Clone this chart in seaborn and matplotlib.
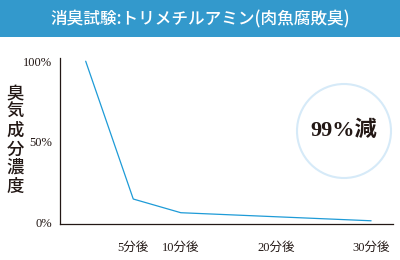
import matplotlib
matplotlib.use("Agg")
import matplotlib.pyplot as plt
import seaborn as sns
import pandas as pd
from matplotlib.patches import Rectangle, Circle
from matplotlib.transforms import IdentityTransform

# data
minutes = [0, 5, 10, 20, 30]
concentration = [100, 14.5, 6, 3.5, 1]
xtick_pos = [5, 10, 20, 30]
xtick_labels = ["5分後", "10分後", "20分後", "30分後"]
ytick_pos = [0, 50, 100]
ytick_labels = ["0%", "50%", "100%"]
title = "消臭試験:トリメチルアミン(肉魚腐敗臭)"
ylabel = "臭気成分濃度"
badge = "99%減"

sns.set_style("white")
FAM = ["Liberation Serif", "Noto Sans CJK JP", "DejaVu Sans"]
plt.rcParams["font.family"] = FAM
TXT = "#231815"

fig = plt.figure(figsize=(4, 2.6), dpi=100)
fig.patch.set_facecolor("white")

# banner
fig.add_artist(Rectangle((0, 1 - 37 / 260), 1, 37 / 260, transform=fig.transFigure,
                         facecolor="#3399cc", edgecolor="none"))
fig.text(0.5, 1 - 19 / 260, title, color="white", fontsize=12, ha="center",
         va="center", weight="medium", family=["Noto Sans CJK JP", "DejaVu Sans"])

ax = fig.add_axes([60 / 400, 1 - 224 / 260, 333 / 400, 166 / 260])
df = pd.DataFrame({"min": minutes, "conc": concentration})
sns.lineplot(data=df, x="min", y="conc", ax=ax, color="#1e9bd7", linewidth=0.9)
ax.set_xlim(-2.7, 32.3)
ax.set_ylim(-1, 102)
ax.set_xticks(xtick_pos)
ax.set_xticklabels(xtick_labels, fontsize=9, color=TXT)
ax.set_yticks(ytick_pos)
ax.set_yticklabels(ytick_labels, fontsize=9, color=TXT)
ax.tick_params(axis="x", length=0, pad=13)
ax.tick_params(axis="y", length=0, pad=6)
ax.set_xlabel("")
ax.set_ylabel("")
for s in ["top", "right"]:
    ax.spines[s].set_visible(False)
for s in ["left", "bottom"]:
    ax.spines[s].set_color(TXT)
    ax.spines[s].set_linewidth(0.9)
ax.patch.set_alpha(0)

# vertical y label
fig.text(15 / 400, 1 - 140 / 260, "\n".join(ylabel), fontsize=12.5, color=TXT,
         ha="center", va="center", linespacing=1.05, weight="medium",
         family=["Noto Sans CJK JP", "DejaVu Sans"])

# badge
fig.add_artist(Circle((344, 129), 47, transform=IdentityTransform(),
                      facecolor="white", edgecolor="#d6eaf8", linewidth=1.5))
fig.text(344 / 400, 129 / 260, badge, fontsize=16, color=TXT, ha="center",
         va="center", weight="bold")

fig.savefig("out.png", dpi=100)
